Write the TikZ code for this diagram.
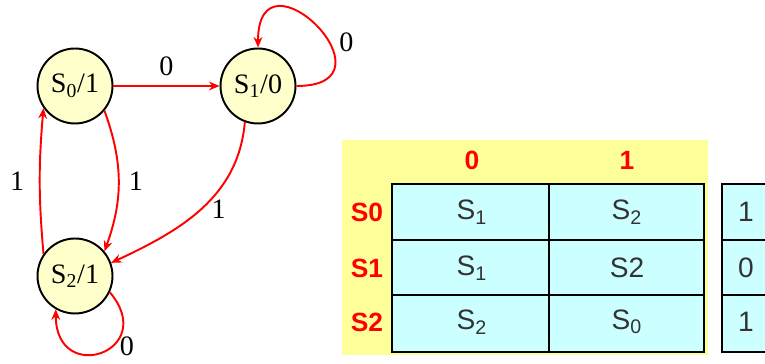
\documentclass[tikz,border=0pt]{standalone}
\usepackage{fontspec}
\setmainfont{Liberation Serif}
\newfontfamily\tabfont{Liberation Sans}
\usetikzlibrary{arrows.meta}
\definecolor{statefill}{RGB}{255,255,204}
\definecolor{hdrfill}{RGB}{255,255,153}
\definecolor{cellfill}{RGB}{204,255,255}
\definecolor{celltext}{RGB}{51,51,51}
\begin{document}
\begin{tikzpicture}[x=0.02cm,y=-0.02cm,
  state/.style={circle,draw,line width=1.1pt,fill=statefill,minimum size=1.5cm,inner sep=0pt,font=\fontsize{16}{18}\selectfont},
  edge/.style={red,line width=1.1pt,-{Stealth[length=6pt,width=5pt]}},
  lbl/.style={text=black,font=\fontsize{16}{18}\selectfont},
  hdr/.style={red,font=\tabfont\bfseries\fontsize{15}{17}\selectfont},
  cell/.style={celltext,font=\tabfont\fontsize{16}{18}\selectfont}]
 \useasboundingbox (0,0) rectangle (765,364);
 % state diagram
 \node[state] (s0) at (75,86) {S\textsubscript{0}/1};
 \node[state] (s1) at (258,86) {S\textsubscript{1}/0};
 \node[state] (s2) at (75,276) {S\textsubscript{2}/1};
 \draw[edge] (s0) -- node[lbl,above=2pt] (l01) {0} (s1);
 \draw[edge] (s1.east) to[out=0,in=90,looseness=5] node[lbl,pos=0.4,right=2pt] (l11) {0} (s1.north);
 \draw[edge] (s0.-40) to[out=-70,in=70] node[lbl,midway,right=2pt] (l02) {1} (s2.40);
 \draw[edge] (s2.145) to[out=95,in=-95] node[lbl,midway,left=5pt] (l20) {1} (s0.-145);
 \draw[edge] (s1.-110) to[out=-95,in=25] node[lbl,midway,right=2pt] (l12) {1} (s2.20);
 \draw[edge] (s2.-25) to[out=-50,in=-90,looseness=3.5] node[lbl,pos=0.32,anchor=north west,inner sep=0pt,yshift=2pt] (l22) {0} (s2.-120);
 % state table
 \fill[hdrfill] (342,140) rectangle (708,355);
 \fill[cellfill] (392,184) rectangle (704,352);
 \fill[cellfill] (722,184) rectangle (765,352);
 \foreach \y in {240,295} {
   \draw[line width=0.9pt] (392,\y) -- (704,\y);
   \draw[line width=0.9pt] (722,\y) -- (765,\y);
 }
 \foreach \y in {184,352} {
   \draw[line width=1.7pt] (391,\y) -- (705,\y);
   \draw[line width=1.7pt] (721,\y) -- (765,\y);
 }
 \foreach \x in {392,549,704,722}
   \draw[line width=1.7pt] (\x,184) -- (\x,352);
 \foreach \x/\h in {472/0,627/1}
   \node[hdr] (h\h) at (\x,160) {\h};
 \foreach \y/\r/\a/\b/\o in {212/0/S\textsubscript{1}/S\textsubscript{2}/1,
                              268/1/S\textsubscript{1}/S2/0,
                              322/2/S\textsubscript{2}/S\textsubscript{0}/1} {
   \node[hdr] (r\r) at (367,\y) {S\r};
   \node[cell] (a\r) at (472,\y) {\a};
   \node[cell] (b\r) at (627,\y) {\b};
   \node[cell] (o\r) at (746,\y) {\o};
 }
\end{tikzpicture}
\end{document}
